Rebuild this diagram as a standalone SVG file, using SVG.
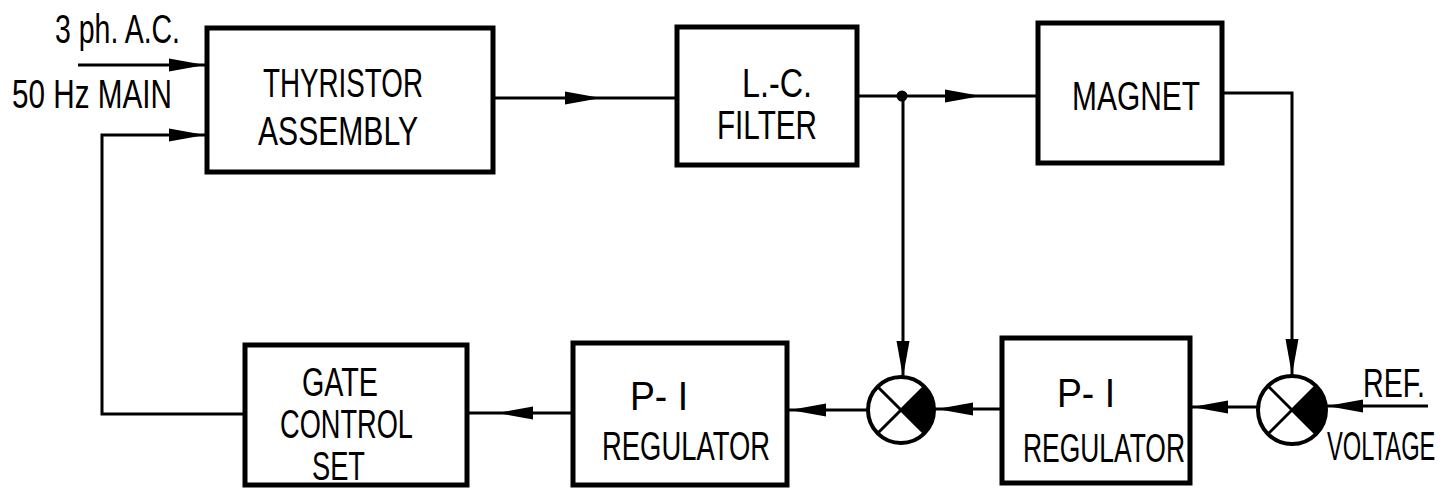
<svg xmlns="http://www.w3.org/2000/svg" xmlns:xlink="http://www.w3.org/1999/xlink" width="1455" height="490" viewBox="0 0 1455 490">
<style>
.box{fill:#fff;stroke:#000;stroke-width:5;stroke-linejoin:miter}
.ln{fill:none;stroke:#000;stroke-width:3}
.t{font-family:"Liberation Sans",Arial,sans-serif;font-size:41px;fill:#000}
.sum{fill:#fff;stroke:#000;stroke-width:4}
.x{stroke:#000;stroke-width:3}
</style>
<defs>
<path id="ah" d="M0,0 L-36,-6.5 L-36,6.5 Z" fill="#000"/>
</defs>
<rect x="0" y="0" width="1455" height="490" fill="#fff"/>

<g id="connectors">
<line class="ln" x1="78" y1="65" x2="207" y2="65"/>
<path class="ln" d="M245,414 H102 V135 H207"/>
<line class="ln" x1="493" y1="98" x2="677" y2="98"/>
<line class="ln" x1="857" y1="96" x2="1038" y2="96"/>
<path class="ln" d="M1222,93 H1292 V376"/>
<path class="ln" d="M903,96 V377"/>
<line class="ln" x1="1428" y1="406" x2="1326" y2="406"/>
<line class="ln" x1="1258" y1="407" x2="1190" y2="407"/>
<line class="ln" x1="1002" y1="409" x2="935" y2="409"/>
<line class="ln" x1="867" y1="410" x2="787" y2="410"/>
<line class="ln" x1="573" y1="413" x2="467" y2="413"/>
<circle cx="902" cy="96" r="5.5" fill="#000"/>
<use xlink:href="#ah" href="#ah" transform="translate(205,65)"/>
<use xlink:href="#ah" href="#ah" transform="translate(205,135)"/>
<use xlink:href="#ah" href="#ah" transform="translate(601,98)"/>
<use xlink:href="#ah" href="#ah" transform="translate(981,96)"/>
<use xlink:href="#ah" href="#ah" transform="translate(903,377) rotate(90)"/>
<use xlink:href="#ah" href="#ah" transform="translate(1292,375) rotate(90)"/>
<use xlink:href="#ah" href="#ah" transform="translate(1327,406) rotate(180)"/>
<use xlink:href="#ah" href="#ah" transform="translate(1192,407) rotate(180)"/>
<use xlink:href="#ah" href="#ah" transform="translate(937,409) rotate(180)"/>
<use xlink:href="#ah" href="#ah" transform="translate(790,410) rotate(180)"/>
<use xlink:href="#ah" href="#ah" transform="translate(497,413) rotate(180)"/>
</g>

<g id="input-labels">
<text class="t" x="55" y="43" textLength="125" lengthAdjust="spacingAndGlyphs">3 ph. A.C.</text>
<text class="t" x="12" y="108" textLength="160" lengthAdjust="spacingAndGlyphs">50 Hz MAIN</text>
</g>

<g id="thyristor">
<rect class="box" x="207" y="28" width="286" height="144"/>
<text class="t" x="263" y="97" textLength="160" lengthAdjust="spacingAndGlyphs">THYRISTOR</text>
<text class="t" x="258" y="145" textLength="160" lengthAdjust="spacingAndGlyphs">ASSEMBLY</text>
</g>

<g id="lcfilter">
<rect class="box" x="677" y="27" width="180" height="138"/>
<text class="t" x="742" y="97" textLength="70" lengthAdjust="spacingAndGlyphs">L.-C.</text>
<text class="t" x="717" y="139" textLength="100" lengthAdjust="spacingAndGlyphs">FILTER</text>
</g>

<g id="magnet">
<rect class="box" x="1038" y="23" width="184" height="140"/>
<text class="t" x="1072" y="110" textLength="128" lengthAdjust="spacingAndGlyphs">MAGNET</text>
</g>

<g id="gatecontrol">
<rect class="box" x="245" y="345" width="222" height="140"/>
<text class="t" x="302" y="396" textLength="76" lengthAdjust="spacingAndGlyphs">GATE</text>
<text class="t" x="280" y="438" textLength="133" lengthAdjust="spacingAndGlyphs">CONTROL</text>
<text class="t" x="312" y="480" textLength="53" lengthAdjust="spacingAndGlyphs">SET</text>
</g>

<g id="piregulator1">
<rect class="box" x="573" y="343" width="214" height="142"/>
<text class="t" x="630" y="410" textLength="58" lengthAdjust="spacingAndGlyphs">P- I</text>
<text class="t" x="602" y="460" textLength="168" lengthAdjust="spacingAndGlyphs">REGULATOR</text>
</g>

<g id="piregulator2">
<rect class="box" x="1002" y="338" width="188" height="145"/>
<text class="t" x="1057" y="407" textLength="58" lengthAdjust="spacingAndGlyphs">P- I</text>
<text class="t" x="1023" y="462" textLength="162" lengthAdjust="spacingAndGlyphs">REGULATOR</text>
</g>

<g id="summer1">
<circle class="sum" cx="901" cy="410" r="33"/>
<path d="M901,410 L924.3,386.7 A33,33 0 0 1 924.3,433.3 Z" fill="#000"/>
<line class="x" x1="877.7" y1="386.7" x2="924.3" y2="433.3"/>
<line class="x" x1="877.7" y1="433.3" x2="924.3" y2="386.7"/>
</g>

<g id="summer2">
<circle class="sum" cx="1292" cy="410" r="34"/>
<path d="M1292,410 L1316,386 A34,34 0 0 1 1316,434 Z" fill="#000"/>
<line class="x" x1="1268" y1="386" x2="1316" y2="434"/>
<line class="x" x1="1268" y1="434" x2="1316" y2="386"/>
</g>

<g id="ref-label">
<text class="t" x="1363" y="397" textLength="62" lengthAdjust="spacingAndGlyphs">REF.</text>
<text class="t" transform="translate(1327,460) scale(0.578,1)" x="0" y="0">VOLTAGE</text>
</g>
</svg>
